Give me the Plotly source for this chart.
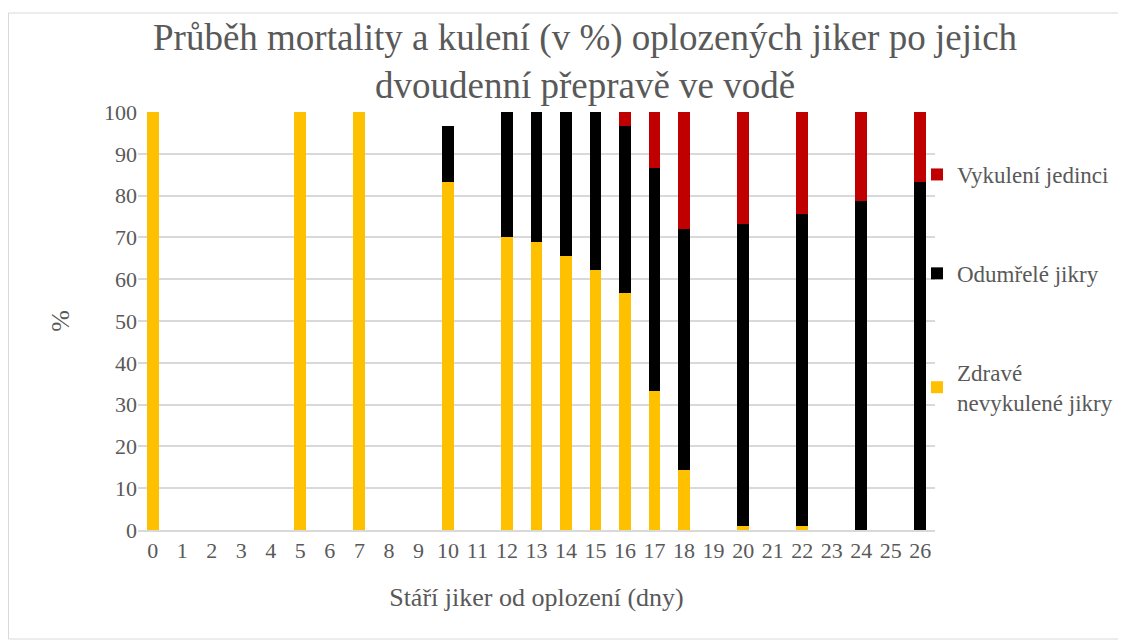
import plotly.graph_objects as go

days = [str(d) for d in range(27)]
healthy = [100, 0, 0, 0, 0, 100, 0, 100, 0, 0, 83.3, 0, 70.0, 68.8, 65.5, 62.1, 56.6, 33.3, 14.3, 0, 1.0, 0, 1.0, 0, 0, 0, 0]
dead = [0, 0, 0, 0, 0, 0, 0, 0, 0, 0, 13.3, 0, 30.0, 31.2, 34.5, 37.9, 40.0, 53.3, 57.8, 0, 72.2, 0, 74.5, 0, 78.8, 0, 83.3]
hatched = [0, 0, 0, 0, 0, 0, 0, 0, 0, 0, 0, 0, 0, 0, 0, 0, 3.4, 13.4, 27.9, 0, 26.8, 0, 24.5, 0, 21.2, 0, 16.7]

names = ["Zdravé<br>nevykulené jikry", "Odumřelé jikry", "Vykulení jedinci"]
colors = ["#FFC000", "#000000", "#C00000"]
ranks = [3, 2, 1]

FONT = "Liberation Serif, Times New Roman, serif"
font_col = "#595959"

fig = go.Figure()
for vals, nm, col, rk in zip([healthy, dead, hatched], names, colors, ranks):
    fig.add_trace(go.Bar(x=days, y=vals, name=nm, marker=dict(color=col, line=dict(width=0)),
                         legendgroup=nm, legendrank=rk))

# the page body adds an 8 px offset, so the figure is laid out in page px minus 8
W, H = 1118, 633
L, T = 130, 104
PR, PB = 927, 522
R, B = W - PR, H - PB
pw, ph = PR - L, PB - T

fig.update_layout(
    barmode="stack",
    bargap=0.6,
    width=W, height=H,
    paper_bgcolor="white", plot_bgcolor="white",
    margin=dict(l=L, r=R, t=T, b=B, autoexpand=False),
    font=dict(family=FONT, color=font_col, size=22),
    xaxis=dict(type="category", automargin=False,
               title=dict(text="Stáří jiker od oplození (dny)", font=dict(size=26, family=FONT), standoff=26),
               showgrid=False, showline=True, linecolor="#d9d9d9", linewidth=1.5, ticks="",
               tickfont=dict(size=22, family=FONT)),
    yaxis=dict(range=[0, 100], dtick=10, automargin=False,
               title=dict(text="%", font=dict(size=26, family=FONT), standoff=26),
               showgrid=True, gridcolor="#d9d9d9", gridwidth=1.5, zeroline=False,
               tickfont=dict(size=22, family=FONT), ticks=""),
    legend=dict(x=(909 - L) / pw, xanchor="left", y=(PB - 145) / ph, yanchor="top",
                traceorder="grouped", tracegroupgap=66, bgcolor="rgba(0,0,0,0)",
                font=dict(size=23, color=font_col, family=FONT), itemwidth=30),
    showlegend=True,
)
fig.add_annotation(text="Průběh mortality a kulení (v %) oplozených jiker po jejich<br>dvoudenní přepravě ve vodě",
                   xref="paper", yref="paper", x=(577 - L) / pw, y=(PB - 54) / ph,
                   xanchor="center", yanchor="middle", showarrow=False,
                   font=dict(size=37, color=font_col, family=FONT))
fig.add_shape(type="rect", xref="paper", yref="paper",
              x0=(0.5 - L) / pw, x1=(1114 - L) / pw, y0=(PB - 631) / ph, y1=(PB - 5) / ph,
              line=dict(color="#d9d9d9", width=1), fillcolor="rgba(0,0,0,0)", layer="below")

fig.write_html("out.html")
